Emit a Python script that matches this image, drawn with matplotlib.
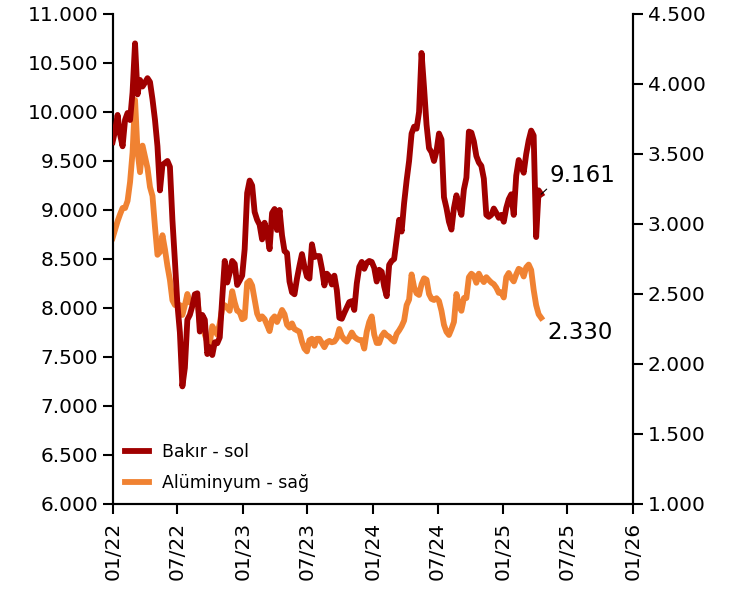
import numpy as np
import pandas as pd
import matplotlib
matplotlib.use("Agg")
import matplotlib.pyplot as plt
import matplotlib.dates as mdates
from matplotlib.ticker import FuncFormatter

# weekly LME prices, $/ton
bakir = [9694, 9810, 9970, 9770, 9650, 9920, 9990, 9918, 10200, 10700,
         10180, 10327, 10260, 10300, 10345, 10306, 10130, 9920, 9650, 9200,
         9460, 9480, 9500, 9440, 8900, 8480, 8040, 7750, 7200, 7390,
         7880, 7930, 8020, 8140, 8150, 7760, 7929, 7880, 7530, 7600,
         7520, 7650, 7640, 7700, 8100, 8480, 8260, 8360, 8480, 8450,
         8235, 8280, 8330, 8600, 9173, 9300, 9250, 8980, 8900, 8850,
         8700, 8870, 8765, 8600, 8969, 9010, 8796, 9000, 8740, 8580,
         8561, 8270, 8160, 8140, 8300, 8430, 8550, 8420, 8320, 8300,
         8650, 8520, 8530, 8530, 8400, 8230, 8350, 8320, 8240, 8330,
         8180, 7900, 7890, 7950, 8005, 8060, 8070, 7980, 8250, 8420,
         8470, 8400, 8460, 8480, 8470, 8410, 8270, 8390, 8370, 8220,
         8120, 8440, 8480, 8500, 8700, 8900, 8780, 9070, 9300, 9500,
         9780, 9850, 9830, 10000, 10602, 10250, 9870, 9630, 9590, 9500,
         9600, 9780, 9720, 9130, 9020, 8880, 8800, 9020, 9150, 9040,
         8950, 9210, 9330, 9800, 9790, 9700, 9550, 9485, 9450, 9320,
         8950, 8930, 8950, 9015, 8970, 8920, 8950, 8880, 9020, 9110,
         9160, 8950, 9350, 9510, 9450, 9380, 9570, 9710, 9810, 9760,
         8724, 9200, 9161]

aluminyum = [2900, 2960, 3020, 3070, 3114, 3114, 3165, 3300, 3510, 3886,
             3520, 3370, 3560, 3480, 3400, 3264, 3200, 2980, 2780, 2800,
             2920, 2820, 2700, 2600, 2455, 2421, 2421, 2421, 2350, 2420,
             2500, 2440, 2430, 2460, 2470, 2295, 2270, 2210, 2157, 2150,
             2270, 2240, 2210, 2290, 2400, 2420, 2400, 2380, 2520, 2440,
             2380, 2371, 2320, 2330, 2579, 2595, 2560, 2460, 2360, 2320,
             2340, 2320, 2279, 2235, 2320, 2340, 2300, 2340, 2386, 2355,
             2280, 2260, 2290, 2250, 2240, 2230, 2160, 2110, 2090, 2170,
             2180, 2130, 2180, 2180, 2150, 2120, 2155, 2165, 2155, 2160,
             2185, 2250, 2200, 2175, 2160, 2190, 2225, 2195, 2180, 2171,
             2171, 2110, 2230, 2300, 2340, 2210, 2150, 2150, 2200, 2225,
             2205, 2195, 2175, 2160, 2215, 2240, 2270, 2310, 2420, 2460,
             2640, 2550, 2505, 2493, 2570, 2612, 2602, 2500, 2465, 2457,
             2470, 2450, 2380, 2280, 2230, 2207, 2250, 2300, 2500, 2420,
             2380, 2471, 2471, 2620, 2645, 2630, 2580, 2645, 2610, 2585,
             2620, 2600, 2582, 2570, 2545, 2508, 2512, 2475, 2620, 2650,
             2614, 2590, 2640, 2680, 2670, 2625, 2690, 2710, 2671, 2530,
             2420, 2355, 2330]

d_bakir = pd.date_range("2021-12-31", periods=len(bakir), freq="7D")
d_alu = pd.date_range("2021-12-31", periods=len(aluminyum), freq="7D")

son_bakir = "9.161"
son_alu = "2.330"

plt.rcParams['font.family'] = ['DejaVu Sans']
fs = 14.5

fig = plt.figure(figsize=(7.36, 6.03), dpi=100)
ax = fig.add_axes([0.1535, 0.1642, 0.8600 - 0.1535, 0.9768 - 0.1642])
ax2 = ax.twinx()

koyu = '#A00000'
turuncu = '#F08232'
l1, = ax.plot(d_bakir, bakir, color=koyu, lw=4.2, label='Bakır - sol', zorder=3)
l2, = ax2.plot(d_alu, aluminyum, color=turuncu, lw=4.2, label='Alüminyum - sağ', zorder=2)
ax.set_zorder(ax2.get_zorder() + 1)
ax.patch.set_visible(False)

ax.set_ylim(6000, 11000)
ax.set_yticks(np.arange(6000, 11001, 500))
ax2.set_ylim(1000, 4500)
ax2.set_yticks(np.arange(1000, 4501, 500))
fmt = FuncFormatter(lambda v, p: f"{int(v):,}".replace(",", "."))
ax.yaxis.set_major_formatter(fmt)
ax2.yaxis.set_major_formatter(fmt)

ax.set_xlim(pd.Timestamp("2022-01-01"), pd.Timestamp("2026-01-01"))
ax.xaxis.set_major_locator(mdates.MonthLocator(bymonth=[1, 7]))
ax.xaxis.set_major_formatter(mdates.DateFormatter("%m/%y"))
for lab in ax.get_xticklabels():
    lab.set_rotation(90)

for a in (ax, ax2):
    a.spines['top'].set_visible(False)
    for s in a.spines.values():
        s.set_linewidth(1.5)
    a.tick_params(axis='both', labelsize=fs, width=1.5, length=7, direction='out')
ax.tick_params(axis='x', pad=6)

ax.annotate(son_bakir, xy=(d_bakir[-1], bakir[-1]), xytext=(6, 5.5),
            textcoords='offset points', fontsize=16.5, va='bottom', ha='left',
            arrowprops=dict(arrowstyle='-', lw=0.8, color='black',
                            shrinkA=0, shrinkB=0, relpos=(0, 0)))
ax2.annotate(son_alu, xy=(d_alu[-1], aluminyum[-1]), xytext=(4.5, -2),
             textcoords='offset points', fontsize=16.5, va='top', ha='left')

ax.legend(handles=[l1, l2], loc='lower left', frameon=False, fontsize=12.5,
          handlelength=1.4, handletextpad=0.7, borderaxespad=0.3,
          labelspacing=0.75, bbox_to_anchor=(0.0, 0.0))

fig.savefig("out.png", dpi=100)
